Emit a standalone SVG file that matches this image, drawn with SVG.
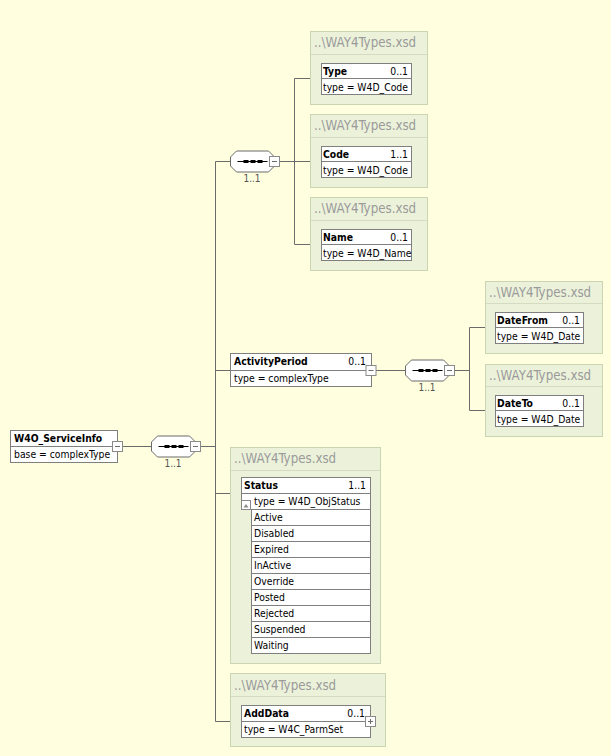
<svg xmlns="http://www.w3.org/2000/svg" width="611" height="756" viewBox="0 0 611 756">
  <defs>
    <style>
      text { font-family: Tahoma, "DejaVu Sans Condensed", "DejaVu Sans", sans-serif; font-size: 10.3px; fill: #000; }
      .bg { fill: #ffffe0; }
      .panel { fill: #ecf2da; stroke: #c9d5b3; stroke-width: 1; }
      .sep { stroke: #d3dcc0; stroke-width: 1; }
      .src { font-size: 13.2px; fill: #9a9a9a; }
      .box { fill: #fff; stroke: #7f7f7f; stroke-width: 1; }
      .div { stroke: #7f7f7f; stroke-width: 1; }
      .name { font-weight: bold; }
      .occ { text-anchor: end; }
      .card { font-size: 10px; fill: #555; text-anchor: middle; }
      .wire { stroke: #6b6b6b; stroke-width: 1; fill: none; }
      .oct { fill: #fff; stroke: #6b6b6b; stroke-width: 1; }
      .tog { fill: #fff; stroke: #8a8a8a; stroke-width: 1; }
      .tgl { stroke: #6b6b6b; stroke-width: 1; }
    </style>
    <!-- sequence compositor glyph, origin at left/centre -->
    <g id="seq">
      <polygon class="oct" points="6,-10.5 38,-10.5 44,-4.5 44,4.5 38,10.5 6,10.5 0,4.5 0,-4.5"/>
      <line x1="7" y1="0" x2="37" y2="0" stroke="#000" stroke-width="1"/>
      <rect x="13" y="-1.5" width="5" height="3" fill="#000"/>
      <rect x="20" y="-1.5" width="5" height="3" fill="#000"/>
      <rect x="27" y="-1.5" width="5" height="3" fill="#000"/>
      <rect class="tog" x="39" y="-5" width="10" height="10"/>
      <line class="tgl" x1="41.5" y1="0" x2="46.5" y2="0"/>
    </g>
    <!-- collapse toggle, centred on origin -->
    <g id="minus">
      <rect class="tog" x="-5" y="-5" width="10" height="10"/>
      <line class="tgl" x1="-2.5" y1="0" x2="2.5" y2="0"/>
    </g>
    <g id="plus">
      <rect class="tog" x="-5" y="-5" width="10" height="10"/>
      <line class="tgl" x1="-2.5" y1="0" x2="2.5" y2="0"/>
      <line class="tgl" x1="0" y1="-2.5" x2="0" y2="2.5"/>
    </g>
  </defs>

  <rect class="bg" x="0" y="0" width="611" height="756"/>

  <!-- connectors -->
  <g id="connectors">
    <path class="wire" d="M122 446.5 H151"/>
    <path class="wire" d="M200 446.5 H215.5"/>
    <path class="wire" d="M215.5 161.5 V721.5"/>
    <path class="wire" d="M215.5 161.5 H230"/>
    <path class="wire" d="M215.5 370.5 H230"/>
    <path class="wire" d="M215.5 493.5 H241"/>
    <path class="wire" d="M215.5 721.5 H241"/>
    <path class="wire" d="M279 161.5 H294.5"/>
    <path class="wire" d="M294.5 78.5 V244.5"/>
    <path class="wire" d="M294.5 78.5 H321"/>
    <path class="wire" d="M294.5 161.5 H321"/>
    <path class="wire" d="M294.5 244.5 H321"/>
    <path class="wire" d="M376 370.5 H405"/>
    <path class="wire" d="M454 370.5 H469.5"/>
    <path class="wire" d="M469.5 327.5 V410.5"/>
    <path class="wire" d="M469.5 327.5 H495"/>
    <path class="wire" d="M469.5 410.5 H495"/>
  </g>

  <!-- root element -->
  <g id="W4O_ServiceInfo">
    <rect class="box" x="10.5" y="430.5" width="107" height="32"/>
    <line class="div" x1="10.5" y1="446.5" x2="117.5" y2="446.5"/>
    <text class="name" x="14" y="442">W4O_ServiceInfo</text>
    <text x="14" y="458">base = complexType</text>
    <use href="#minus" x="117.5" y="446.5"/>
  </g>

  <g id="seq-main">
    <use href="#seq" x="151.5" y="446.5"/>
    <text class="card" x="173" y="467">1..1</text>
  </g>

  <g id="seq-top">
    <use href="#seq" x="230.5" y="161.5"/>
    <text class="card" x="252" y="182">1..1</text>
  </g>

  <!-- Type -->
  <g id="Type">
    <rect class="panel" x="310.5" y="31.5" width="117" height="73"/>
    <line class="sep" x1="311" y1="54.5" x2="427" y2="54.5"/>
    <text class="src" x="314" y="47">..\WAY4Types.xsd</text>
    <rect class="box" x="321.5" y="63.5" width="90" height="31"/>
    <line class="div" x1="321.5" y1="78.5" x2="411.5" y2="78.5"/>
    <text class="name" x="323" y="75">Type</text>
    <text class="occ" x="408" y="75">0..1</text>
    <text x="323" y="91">type = W4D_Code</text>
  </g>

  <!-- Code -->
  <g id="Code">
    <rect class="panel" x="310.5" y="114.5" width="117" height="73"/>
    <line class="sep" x1="311" y1="137.5" x2="427" y2="137.5"/>
    <text class="src" x="314" y="130">..\WAY4Types.xsd</text>
    <rect class="box" x="321.5" y="146.5" width="90" height="31"/>
    <line class="div" x1="321.5" y1="161.5" x2="411.5" y2="161.5"/>
    <text class="name" x="323" y="158">Code</text>
    <text class="occ" x="408" y="158">1..1</text>
    <text x="323" y="174">type = W4D_Code</text>
  </g>

  <!-- Name -->
  <g id="Name">
    <rect class="panel" x="310.5" y="197.5" width="117" height="73"/>
    <line class="sep" x1="311" y1="220.5" x2="427" y2="220.5"/>
    <text class="src" x="314" y="213">..\WAY4Types.xsd</text>
    <rect class="box" x="321.5" y="229.5" width="90" height="31"/>
    <line class="div" x1="321.5" y1="244.5" x2="411.5" y2="244.5"/>
    <text class="name" x="323" y="241">Name</text>
    <text class="occ" x="408" y="241">0..1</text>
    <text x="323" y="257">type = W4D_Name</text>
  </g>

  <!-- ActivityPeriod -->
  <g id="ActivityPeriod">
    <rect class="box" x="230.5" y="353.5" width="141" height="33"/>
    <line class="div" x1="230.5" y1="370.5" x2="371.5" y2="370.5"/>
    <text class="name" x="234" y="365">ActivityPeriod</text>
    <text class="occ" x="366" y="365">0..1</text>
    <text x="234" y="382">type = complexType</text>
    <use href="#minus" x="371" y="370.5"/>
  </g>

  <g id="seq-activity">
    <use href="#seq" x="405.5" y="370.5"/>
    <text class="card" x="427" y="391">1..1</text>
  </g>

  <!-- DateFrom -->
  <g id="DateFrom">
    <rect class="panel" x="485.5" y="281.5" width="117" height="72"/>
    <line class="sep" x1="486" y1="303.5" x2="602" y2="303.5"/>
    <text class="src" x="489" y="297">..\WAY4Types.xsd</text>
    <rect class="box" x="495.5" y="312.5" width="88" height="31"/>
    <line class="div" x1="495.5" y1="327.5" x2="583.5" y2="327.5"/>
    <text class="name" x="497" y="324">DateFrom</text>
    <text class="occ" x="580" y="324">0..1</text>
    <text x="497" y="340">type = W4D_Date</text>
  </g>

  <!-- DateTo -->
  <g id="DateTo">
    <rect class="panel" x="485.5" y="364.5" width="117" height="72"/>
    <line class="sep" x1="486" y1="386.5" x2="602" y2="386.5"/>
    <text class="src" x="489" y="380">..\WAY4Types.xsd</text>
    <rect class="box" x="495.5" y="395.5" width="88" height="31"/>
    <line class="div" x1="495.5" y1="410.5" x2="583.5" y2="410.5"/>
    <text class="name" x="497" y="407">DateTo</text>
    <text class="occ" x="580" y="407">0..1</text>
    <text x="497" y="423">type = W4D_Date</text>
  </g>

  <!-- Status with its enumeration -->
  <g id="Status">
    <rect class="panel" x="230.5" y="447.5" width="150" height="216"/>
    <line class="sep" x1="231" y1="470.5" x2="380" y2="470.5"/>
    <text class="src" x="234" y="463">..\WAY4Types.xsd</text>
    <rect class="box" x="241.5" y="477.5" width="129" height="32"/>
    <line class="div" x1="241.5" y1="493.5" x2="370.5" y2="493.5"/>
    <text class="name" x="244" y="489">Status</text>
    <text class="occ" x="366" y="489">1..1</text>
    <text x="254" y="505">type = W4D_ObjStatus</text>
    <rect class="tog" x="241.5" y="500.5" width="9" height="9"/>
    <path d="M243.5 507.5 L246 504 L248.5 507.5 Z" fill="#8a8a8a"/>
    <rect class="box" x="251.5" y="509.5" width="119" height="144"/>
    <g class="div">
      <line x1="251.5" y1="525.5" x2="370.5" y2="525.5"/>
      <line x1="251.5" y1="541.5" x2="370.5" y2="541.5"/>
      <line x1="251.5" y1="557.5" x2="370.5" y2="557.5"/>
      <line x1="251.5" y1="573.5" x2="370.5" y2="573.5"/>
      <line x1="251.5" y1="589.5" x2="370.5" y2="589.5"/>
      <line x1="251.5" y1="605.5" x2="370.5" y2="605.5"/>
      <line x1="251.5" y1="621.5" x2="370.5" y2="621.5"/>
      <line x1="251.5" y1="637.5" x2="370.5" y2="637.5"/>
    </g>
    <text x="254" y="521">Active</text>
    <text x="254" y="537">Disabled</text>
    <text x="254" y="553">Expired</text>
    <text x="254" y="569">InActive</text>
    <text x="254" y="585">Override</text>
    <text x="254" y="601">Posted</text>
    <text x="254" y="617">Rejected</text>
    <text x="254" y="633">Suspended</text>
    <text x="254" y="649">Waiting</text>
  </g>

  <!-- AddData -->
  <g id="AddData">
    <rect class="panel" x="230.5" y="673.5" width="155" height="73"/>
    <line class="sep" x1="231" y1="696.5" x2="385" y2="696.5"/>
    <text class="src" x="234" y="690">..\WAY4Types.xsd</text>
    <rect class="box" x="241.5" y="705.5" width="129" height="32"/>
    <line class="div" x1="241.5" y1="721.5" x2="370.5" y2="721.5"/>
    <text class="name" x="244" y="717">AddData</text>
    <text class="occ" x="365" y="717">0..1</text>
    <text x="244" y="733">type = W4C_ParmSet</text>
    <use href="#plus" x="370.5" y="721.5"/>
  </g>
</svg>
